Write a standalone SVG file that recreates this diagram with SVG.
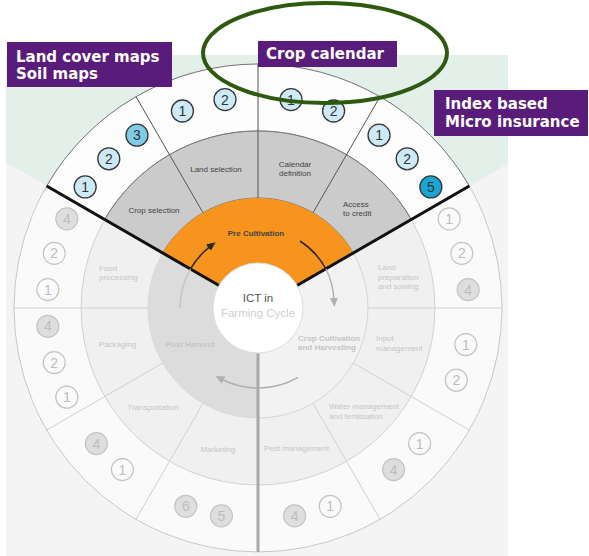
<svg xmlns="http://www.w3.org/2000/svg" width="589" height="556" viewBox="0 0 589 556">
<style>
.box{fill:#5a1c7a}
.boxt{font-family:"DejaVu Sans",sans-serif;font-weight:bold;font-size:15px;fill:#ffffff}
.lbl{font-family:"Liberation Sans",Arial,sans-serif;font-size:8px;fill:#444444}
.flbl{font-family:"Liberation Sans",Arial,sans-serif;font-size:8px;fill:#c6c6c6}
.c{text-anchor:middle}
.nc{stroke:#363636;stroke-width:1.3}
.nt{font-family:"Liberation Sans",Arial,sans-serif;font-size:14px;fill:#333333;text-anchor:middle}
.fc{fill:#fafafa;stroke:#c4c4c4;stroke-width:1.2}
.fcf{fill:#dedede;stroke:#c4c4c4;stroke-width:1.2}
.ft{font-family:"Liberation Sans",Arial,sans-serif;font-size:14px;fill:#bdbdbd;text-anchor:middle}
.fl{stroke:#d0d0d0;stroke-width:1;fill:none}
.dl{stroke:#555555;stroke-width:1;fill:none}
</style>
<defs>
<marker id="ahd" markerUnits="userSpaceOnUse" markerWidth="9" markerHeight="8" refX="2" refY="4" orient="auto"><path d="M0,0 L9,4 L0,8 Z" fill="#2a2a2a"/></marker>
<marker id="ahg" markerUnits="userSpaceOnUse" markerWidth="9" markerHeight="8" refX="2" refY="4" orient="auto"><path d="M0,0 L9,4 L0,8 Z" fill="#b0b0b0"/></marker>
</defs>
<rect x="0" y="0" width="589" height="556" fill="#ffffff"/>
<rect x="6" y="55" width="502" height="501" fill="#f4f4f4"/>
<polygon points="258,308 6,162.5 6,55 508,55 508,163.7" fill="#e3f0e9"/>

<g id="wheel">
<circle cx="258" cy="308" r="244" fill="#fafafa" stroke="#c8c8c8" stroke-width="1"/>
<circle cx="258" cy="308" r="177" fill="#f0f0f0" stroke="#d2d2d2" stroke-width="1"/>
<circle cx="258" cy="308" r="110" fill="#f2f2f2" stroke="#d6d6d6" stroke-width="1"/>
</g>

<g id="post-harvest">
<path d="M 162.74 253 A 110 110 0 0 0 258 418 L 258 353 A 45 45 0 0 1 219.03 285.5 Z" fill="#dcdcdc"/>
<text class="flbl c" x="190" y="347" font-weight="bold">Post Harvest</text>
</g>
<g id="crop-cultivation">
<text class="flbl" x="298" y="341" font-weight="bold">Crop Cultivation</text>
<text class="flbl" x="298" y="350" font-weight="bold">and Harvesting</text>
</g>

<g id="pre-cultivation">
<path d="M 469.31 186 A 244 244 0 0 0 46.69 186 L 104.71 219.5 A 177 177 0 0 1 411.29 219.5 Z" fill="#fdfdfd" stroke="#777777" stroke-width="1"/>
<path d="M 411.29 219.5 A 177 177 0 0 0 104.71 219.5 L 162.74 253 A 110 110 0 0 1 353.26 253 Z" fill="#cbcbcb" stroke="#777777" stroke-width="1"/>
<path d="M 353.26 253 A 110 110 0 0 0 162.74 253 L 219.03 285.5 A 45 45 0 0 1 296.97 285.5 Z" fill="#f7941d"/>
<text class="lbl c" x="256" y="236" font-weight="bold" fill="#3b2a14">Pre Cultivation</text>
</g>

<g id="connectors">
<path class="fl" d="M148 308 L14 308 M162.74 363 L46.69 430 M203 403.26 L136 519.31 M368 308 L502 308 M353.26 363 L469.31 430 M313 403.26 L380 519.31"/>
<path class="dl" d="M313 212.74 L380 96.69 M258 198 L258 64 M203 212.74 L136 96.69"/>
<line x1="258" y1="353" x2="258" y2="552" stroke="#a8a8a8" stroke-width="3"/>
<line x1="219.03" y1="285.5" x2="46.69" y2="186" stroke="#111111" stroke-width="3"/>
<line x1="296.97" y1="285.5" x2="469.31" y2="186" stroke="#111111" stroke-width="3"/>
<path d="M 180 308 A 78 78 0 0 1 190.45 269" fill="none" stroke="#c4c4c4" stroke-width="1.5"/>
<path d="M 190.45 269 A 78 78 0 0 1 209.98 246.54" fill="none" stroke="#2a2a2a" stroke-width="1.5" marker-end="url(#ahd)"/>
<path d="M 300 241 A 78 78 0 0 1 326 269" fill="none" stroke="#2a2a2a" stroke-width="1.5"/>
<path d="M 326 269 A 78 78 0 0 1 334 300" fill="none" stroke="#b0b0b0" stroke-width="1.5" marker-end="url(#ahg)"/>
<path d="M 298 377.28 A 80 80 0 0 1 221.68 379.28" fill="none" stroke="#b0b0b0" stroke-width="1.5" marker-end="url(#ahg)"/>
</g>

<g id="ict-center">
<circle cx="258" cy="308" r="45" fill="#ffffff" stroke="#dddddd" stroke-width="1"/>
<text x="258" y="302" font-family="Liberation Sans, Arial, sans-serif" font-size="11.5" fill="#555555" text-anchor="middle">ICT in</text>
<text x="258" y="317" font-family="Liberation Sans, Arial, sans-serif" font-size="11.5" fill="#cfcfcf" text-anchor="middle">Farming Cycle</text>
</g>

<g id="crop-selection">
<text class="lbl c" x="154" y="213">Crop selection</text>
<circle class="nc" cx="85.15" cy="186.97" r="11" fill="#cdeaf6"/><text class="nt" x="85.15" y="191.97">1</text>
<circle class="nc" cx="108.8" cy="158.8" r="11" fill="#cdeaf6"/><text class="nt" x="108.8" y="163.8">2</text>
<circle class="nc" cx="136.97" cy="135.15" r="11" fill="#7dcbe5"/><text class="nt" x="136.97" y="140.15">3</text>
</g>
<g id="land-selection">
<text class="lbl c" x="216" y="172">Land selection</text>
<circle class="nc" cx="182.4" cy="111" r="11" fill="#cdeaf6"/><text class="nt" x="182.4" y="116">1</text>
<circle class="nc" cx="225" cy="99.6" r="11" fill="#cdeaf6"/><text class="nt" x="225" y="104.6">2</text>
</g>
<g id="calendar-definition">
<text class="lbl c" x="295" y="167">Calendar</text>
<text class="lbl c" x="295" y="176">definition</text>
<circle class="nc" cx="291" cy="99.6" r="11" fill="#cdeaf6"/><text class="nt" x="291" y="104.6">1</text>
<circle class="nc" cx="333.6" cy="111" r="11" fill="#cdeaf6"/><text class="nt" x="333.6" y="116">2</text>
</g>
<g id="access-to-credit">
<text class="lbl" x="343" y="207">Access</text>
<text class="lbl" x="343" y="216">to credit</text>
<circle class="nc" cx="379.03" cy="135.15" r="11" fill="#cdeaf6"/><text class="nt" x="379.03" y="140.15">1</text>
<circle class="nc" cx="407.2" cy="158.8" r="11" fill="#cdeaf6"/><text class="nt" x="407.2" y="163.8">2</text>
<circle class="nc" cx="430.85" cy="186.97" r="11" fill="#1aa6d4"/><text class="nt" x="430.85" y="191.97">5</text>
</g>

<g id="land-preparation">
<text class="flbl" x="378" y="270">Land</text>
<text class="flbl" x="378" y="279.5">preparation</text>
<text class="flbl" x="378" y="289">and sowing</text>
<circle class="fc" cx="449.2" cy="218.8" r="11"/><text class="ft" x="449.2" y="223.8">1</text>
<circle class="fc" cx="461.8" cy="253.4" r="11"/><text class="ft" x="461.8" y="258.4">2</text>
<circle class="fcf" cx="468.2" cy="289.6" r="11"/><text class="ft" x="468.2" y="294.6">4</text>
</g>
<g id="input-management">
<text class="flbl" x="376" y="341">Input</text>
<text class="flbl" x="376" y="351">management</text>
<circle class="fc" cx="465.8" cy="344.6" r="11"/><text class="ft" x="465.8" y="349.6">1</text>
<circle class="fc" cx="456.3" cy="380.2" r="11"/><text class="ft" x="456.3" y="385.2">2</text>
</g>
<g id="water-management">
<text class="flbl" x="329" y="409">Water management</text>
<text class="flbl" x="329" y="419">and fertilisation</text>
<circle class="fc" cx="419.6" cy="443.6" r="11"/><text class="ft" x="419.6" y="448.6">1</text>
<circle class="fcf" cx="393.6" cy="469.6" r="11"/><text class="ft" x="393.6" y="474.6">4</text>
</g>
<g id="pest-management">
<text class="flbl" x="264" y="451">Pest management</text>
<circle class="fc" cx="330.2" cy="506.3" r="11"/><text class="ft" x="330.2" y="511.3">1</text>
<circle class="fcf" cx="294.6" cy="515.8" r="11"/><text class="ft" x="294.6" y="520.8">4</text>
</g>
<g id="marketing">
<text class="flbl c" x="218" y="452">Marketing</text>
<circle class="fcf" cx="185.8" cy="506.3" r="11"/><text class="ft" x="185.8" y="511.3">6</text>
<circle class="fcf" cx="221.4" cy="515.8" r="11"/><text class="ft" x="221.4" y="520.8">5</text>
</g>
<g id="transportation">
<text class="flbl c" x="153" y="410">Transportation</text>
<circle class="fcf" cx="96.4" cy="443.6" r="11"/><text class="ft" x="96.4" y="448.6">4</text>
<circle class="fc" cx="122.4" cy="469.6" r="11"/><text class="ft" x="122.4" y="474.6">1</text>
</g>
<g id="packaging">
<text class="flbl c" x="117.5" y="347">Packaging</text>
<circle class="fcf" cx="47.8" cy="326.4" r="11"/><text class="ft" x="47.8" y="331.4">4</text>
<circle class="fc" cx="54.2" cy="362.6" r="11"/><text class="ft" x="54.2" y="367.6">2</text>
<circle class="fc" cx="66.8" cy="397.2" r="11"/><text class="ft" x="66.8" y="402.2">1</text>
</g>
<g id="food-processing">
<text class="flbl" x="99" y="271">Food</text>
<text class="flbl" x="99" y="280">processing</text>
<circle class="fcf" cx="66.8" cy="218.8" r="11"/><text class="ft" x="66.8" y="223.8">4</text>
<circle class="fc" cx="54.2" cy="253.4" r="11"/><text class="ft" x="54.2" y="258.4">2</text>
<circle class="fc" cx="47.8" cy="289.6" r="11"/><text class="ft" x="47.8" y="294.6">1</text>
</g>

<g id="label-land-cover">
<rect class="box" x="7" y="42" width="165" height="45"/>
<text class="boxt" x="16" y="62">Land cover maps</text>
<text class="boxt" x="16" y="79">Soil maps</text>
</g>
<g id="label-crop-calendar">
<rect class="box" x="258" y="41" width="139" height="26"/>
<text class="boxt" x="266" y="59">Crop calendar</text>
</g>
<g id="label-index-insurance">
<rect class="box" x="434" y="90" width="154" height="46"/>
<text class="boxt" x="445" y="109">Index based</text>
<text class="boxt" x="445" y="127">Micro insurance</text>
</g>
<g id="highlight-ellipse">
<ellipse cx="325" cy="53" rx="122" ry="50" fill="none" stroke="#2e5a10" stroke-width="4"/>
</g>
</svg>
